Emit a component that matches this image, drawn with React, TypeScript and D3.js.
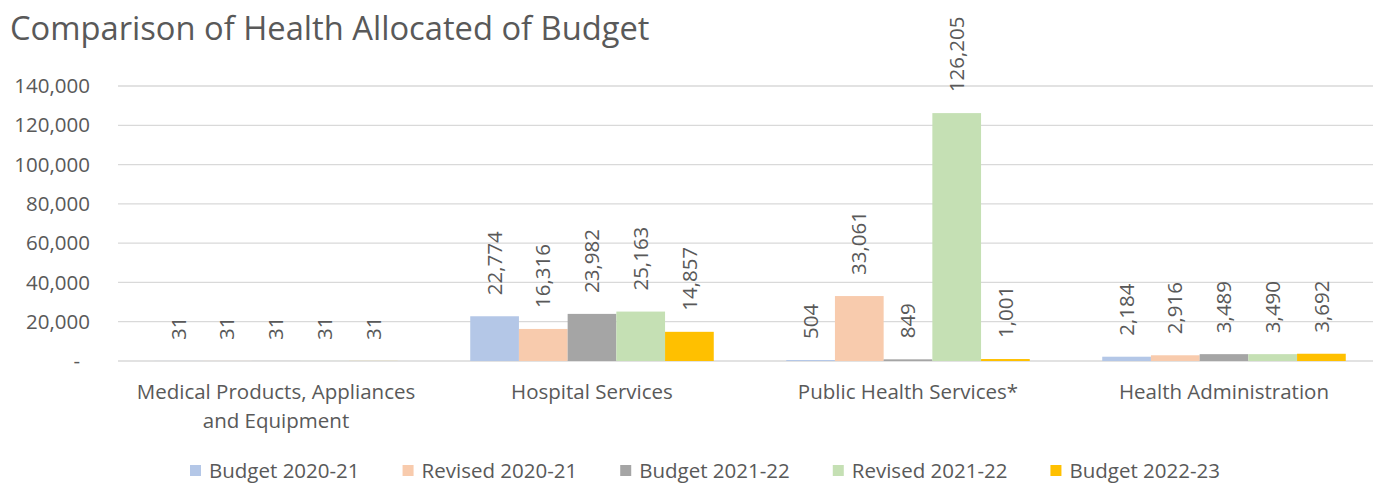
import React, { useEffect, useRef } from "react";
import * as d3 from "d3";

const categories = [
  ["Medical Products, Appliances", "and Equipment"],
  ["Hospital Services"],
  ["Public Health Services*"],
  ["Health Administration"],
];
const seriesNames = ["Budget 2020-21", "Revised 2020-21", "Budget 2021-22", "Revised 2021-22", "Budget 2022-23"];
const seriesColors = ["#B4C7E7", "#F8CBAD", "#A5A5A5", "#C5E0B4", "#FFC000"];
const budget2020 = [31, 22774, 504, 2184];
const revised2020 = [31, 16316, 33061, 2916];
const budget2021 = [31, 23982, 849, 3489];
const revised2021 = [31, 25163, 126205, 3490];
const budget2022 = [31, 14857, 1001, 3692];
const yTicks = [0, 20000, 40000, 60000, 80000, 100000, 120000, 140000];

const seriesValues = [budget2020, revised2020, budget2021, revised2021, budget2022];

const W = 1373;
const H = 485;
const FONT = "'Open Sans', sans-serif";
const TXT = "#595959";

export default function App() {
  const ref = useRef<SVGSVGElement>(null);
  useEffect(() => {
    const svg = d3.select(ref.current);
    svg.selectAll("*").remove();

    const catIdx = categories.map((_, i) => i);
    const x0 = d3.scaleBand<number>().domain(catIdx).range([118, 1382]).padding(0);
    const x1 = d3.scaleBand<number>().domain(seriesNames.map((_, i) => i)).range([0, x0.bandwidth()]).paddingInner(0).paddingOuter(0.744);
    const y = d3.scaleLinear().domain([0, 140000]).range([361, 86]);
    const fmt = d3.format(",");

    // title
    svg.append("text").attr("x", 10).attr("y", 40).attr("font-family", FONT).attr("font-size", 32.7).attr("fill", TXT).text("Comparison of Health Allocated of Budget");

    // gridlines
    svg.append("g").selectAll("line").data(yTicks).join("line")
      .attr("x1", 118).attr("x2", W).attr("y1", (d) => y(d)).attr("y2", (d) => y(d))
      .attr("stroke", "#D9D9D9").attr("stroke-width", 1.3);

    // y labels
    svg.append("g").selectAll("text").data(yTicks).join("text")
      .attr("x", (d) => (d === 0 ? 80 : 90)).attr("y", (d) => y(d)).attr("dy", "0.35em")
      .attr("text-anchor", "end").attr("font-family", FONT).attr("font-size", 20.5).attr("fill", TXT)
      .text((d) => (d === 0 ? "-" : fmt(d)));

    // bars
    seriesValues.forEach((vals, si) => {
      const g = svg.append("g");
      g.selectAll("rect").data(vals).join("rect")
        .attr("x", (_, ci) => (x0(ci) as number) + (x1(si) as number))
        .attr("width", x1.bandwidth())
        .attr("y", (d) => y(d))
        .attr("height", (d) => y(0) - y(d))
        .attr("fill", seriesColors[si]);
      g.selectAll("text").data(vals).join("text")
        .attr("transform", (d, ci) => {
          const cx = (x0(ci) as number) + (x1(si) as number) + x1.bandwidth() / 2;
          return `translate(${cx},${y(d) - 21}) rotate(-90)`;
        })
        .attr("dy", "0.35em")
        .attr("font-family", FONT).attr("font-size", 20.5).attr("fill", TXT)
        .text((d) => fmt(d));
    });

    // category labels
    categories.forEach((lines, ci) => {
      const cx = (x0(ci) as number) + x0.bandwidth() / 2;
      lines.forEach((ln, li) => {
        svg.append("text").attr("x", cx).attr("y", 399 + li * 29).attr("text-anchor", "middle")
          .attr("font-family", FONT).attr("font-size", 20.5).attr("fill", TXT).text(ln);
      });
    });

    // legend
    const lg = svg.append("g");
    const items = seriesNames.map((name, i) => {
      const it = lg.append("g");
      it.append("rect").attr("x", 0).attr("y", -13).attr("width", 11).attr("height", 11).attr("fill", seriesColors[i]);
      const t = it.append("text").attr("x", 19).attr("y", 0).attr("font-family", FONT).attr("font-size", 20.5).attr("fill", TXT).text(name);
      const w = (t.node() as SVGTextElement).getComputedTextLength();
      return { it, w: 19 + w };
    });
    const gap = 43;
    const total = d3.sum(items, (d) => d.w) + gap * (items.length - 1);
    let cx = 705 - total / 2;
    items.forEach(({ it, w }) => {
      it.attr("transform", `translate(${cx},478)`);
      cx += w + gap;
    });
  }, []);
  return (
    <>
      <style>{"body{margin:0}"}</style>
      <svg ref={ref} width={W} height={H} style={{ display: "block", background: "#fff" }} />
    </>
  );
}
